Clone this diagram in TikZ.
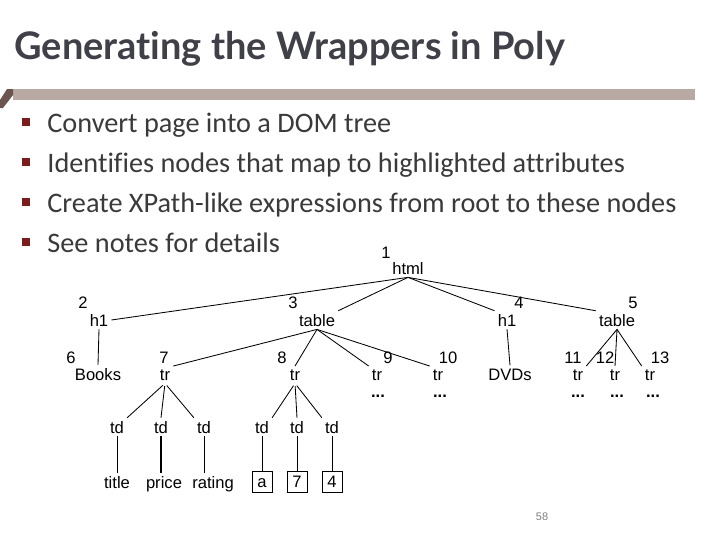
\documentclass[tikz,border=0pt]{standalone}
\usepackage{fontspec}
\setmainfont{Liberation Sans}
\newfontfamily\titlefont[Ligatures=NoCommon]{Lato}
\newfontfamily\bodyfont[Ligatures=NoCommon]{Carlito}
\usepackage{tikz}
\usetikzlibrary{calc}
\definecolor{titlegrey}{HTML}{404048}
\definecolor{bodygrey}{HTML}{3A3A3A}
\definecolor{barpink}{HTML}{B8A9A3}
\definecolor{barbrown}{HTML}{6B5550}
\definecolor{bulletred}{HTML}{7A1C1C}

\begin{document}
\begin{tikzpicture}[x=0.025cm, y=-0.025cm, line width=0.6pt,
    lbl/.style={inner sep=2pt, anchor=base, font=\fontsize{11.8}{14}\selectfont},
    num/.style={inner sep=0pt, anchor=base, font=\fontsize{11.8}{14}\selectfont},
    dots/.style={inner sep=0pt, anchor=base, font=\fontsize{11.8}{14}\selectfont\bfseries},
    valbox/.style={draw, inner sep=0pt, minimum width=0.5cm, minimum height=0.525cm,
        text height=8.5pt, text depth=0pt, font=\fontsize{11.8}{14}\selectfont},
    bul/.style={anchor=base west, inner sep=0pt, text=bodygrey,
        font=\bodyfont\fontsize{20.1}{24}\selectfont}]
    \useasboundingbox (0,0) rectangle (720,540);
    \fill[white] (0,0) rectangle (720,540);
    % title and bar
    \node[anchor=base west, inner sep=0pt, text=titlegrey,
        font=\titlefont\bfseries\fontsize{27}{32}\selectfont] (head) at (14,59)
        {Generating the Wrappers in Poly};
    \fill[barpink] (13,89) rectangle (695,100);
    \fill[barbrown] (0,100) -- (7,89) -- (13,89) -- (13,95) -- (3,108) -- (0,108) -- cycle;
    % bullets
    \foreach \y in {0,40,80,120}
        \fill[bulletred] (22,118+\y) rectangle (30,126+\y);
    \node[bul] (b1) at (47,132) {Convert page into a DOM tree};
    \node[bul] (b2) at (47,172) {Identifies nodes that map to highlighted attributes};
    \node[bul] (b3) at (47,212) {Create XPath-like expressions from root to these nodes};
    \node[bul] (b4) at (47,252) {See notes for details};
    % tree
    \node[num] (n1) at (386,258) {1};
    \node[lbl] (html) at (408,274) {html};
    \node[num] (n2) at (83,308) {2};
    \node[lbl] (h1a) at (99,326) {h1};
    \node[num] (n3) at (293,308) {3};
    \node[lbl] (tab3) at (317,326) {table};
    \node[num] (n4) at (519,308) {4};
    \node[lbl] (h1b) at (507,326) {h1};
    \node[num] (n5) at (633,308) {5};
    \node[lbl] (tab5) at (617,326) {table};
    \node[num] (n6) at (71,363) {6};
    \node[lbl] (books) at (98,380) {Books};
    \node[num] (n7) at (164,363) {7};
    \node[lbl] (tr7) at (165,380) {tr};
    \node[num] (n8) at (282,363) {8};
    \node[lbl] (tr8) at (295,380) {tr};
    \node[num] (n9) at (388,363) {9};
    \node[lbl] (tr9) at (377,380) {tr};
    \node[num] (n10) at (448,363) {10};
    \node[lbl] (tr10) at (438,380) {tr};
    \node[lbl] (dvds) at (510,380) {DVDs};
    \node[num] (n11) at (573,363) {11};
    \node[lbl] (tr11) at (578,380) {tr};
    \node[num] (n12) at (605,363) {12};
    \node[lbl] (tr12) at (615,380) {tr};
    \node[num] (n13) at (660,363) {13};
    \node[lbl] (tr13) at (650,380) {tr};
    \node[dots] (d9) at (378,397) {...};
    \node[dots] (d10) at (440,397) {...};
    \node[dots] (d11) at (578,397) {...};
    \node[dots] (d12) at (617,397) {...};
    \node[dots] (d13) at (653,397) {...};
    \node[lbl] (td1) at (117,433) {td};
    \node[lbl] (td2) at (161,433) {td};
    \node[lbl] (td3) at (204,433) {td};
    \node[lbl] (td4) at (262,433) {td};
    \node[lbl] (td5) at (297,433) {td};
    \node[lbl] (td6) at (332,433) {td};
    \node[lbl] (ttl) at (117,488) {title};
    \node[lbl] (prc) at (164,488) {price};
    \node[lbl] (rtg) at (213,488) {rating};
    \node[valbox] (va) at (262,482) {a};
    \node[valbox] (v7) at (297,482) {7};
    \node[valbox] (v4) at (332,482) {4};
    % edges
    \draw (html.south) -- (h1a.east);
    \draw (html.south) -- (tab3.north east);
    \draw (html.south) -- (h1b.north west);
    \draw (html.south) -- (tab5.north west);
    \draw (h1a.south) -- (books.north);
    \draw (h1b.south) -- (dvds.north);
    \draw (tab3.south) -- (tr7.north east);
    \draw (tab3.south) -- (tr8.north);
    \draw (tab3.south) -- (tr9.north west);
    \draw (tab3.south) -- (tr10.north west);
    \draw (tab5.south) -- (tr11.north east);
    \draw (tab5.south) -- (tr12.north);
    \draw (tab5.south) -- (tr13.north west);
    \draw[shorten <=2pt] (tr7.south) -- (td1.north east);
    \draw[shorten <=2pt] (tr7.south) -- (td2.north);
    \draw[shorten <=2pt] (tr7.south) -- (td3.north west);
    \draw[shorten <=2pt] (tr8.south) -- (td4.north east);
    \draw[shorten <=2pt] (tr8.south) -- (td5.north);
    \draw[shorten <=2pt] (tr8.south) -- (td6.north west);
    \draw (td1.south) -- (td1.south |- ttl.north);
    \draw[line width=1.5pt] (td2.south) -- (td2.south |- prc.north);
    \draw (td3.south) -- (td3.south |- rtg.north);
    \draw (td4.south) -- (va.north);
    \draw (td5.south) -- (v7.north);
    \draw (td6.south) -- (v4.north);
    % page number
    \node[text=gray, font=\fontsize{7.8}{9}\selectfont] (pg) at (542,517) {58};
\end{tikzpicture}
\end{document}
